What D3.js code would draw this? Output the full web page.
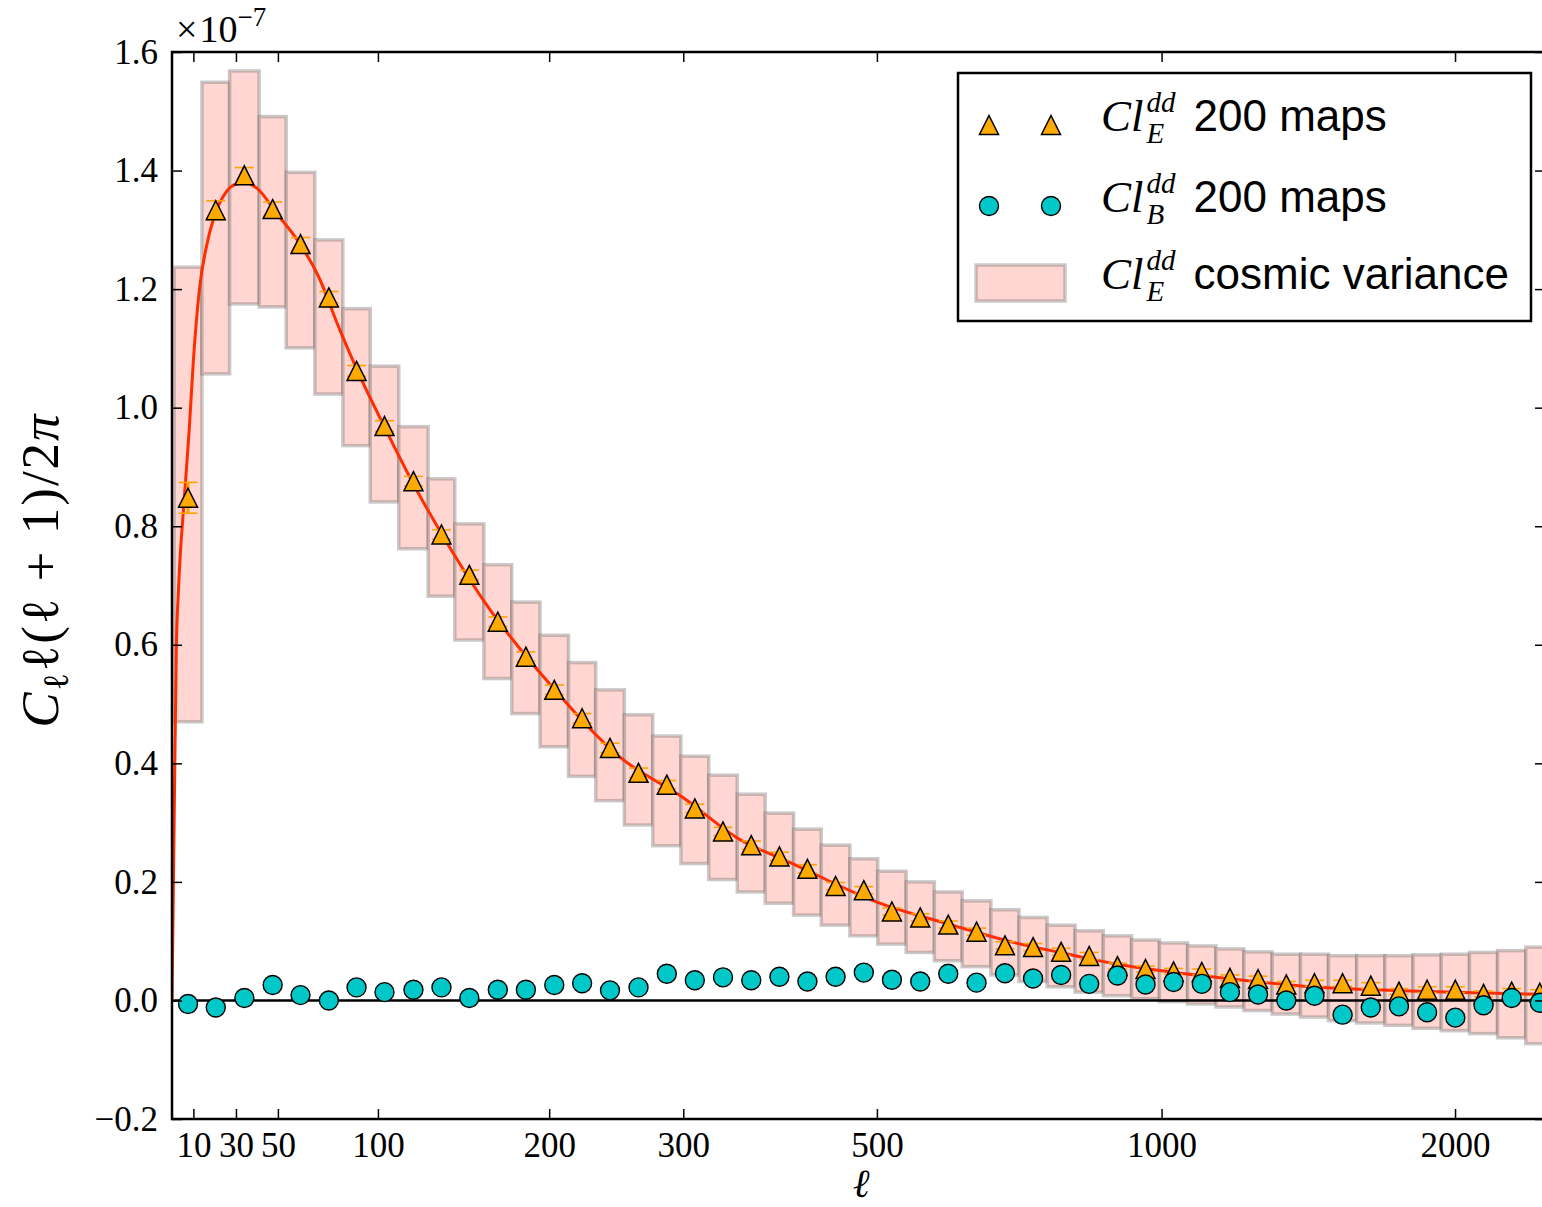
<!DOCTYPE html>
<html>
<head>
<meta charset="utf-8">
<script src="https://cdn.jsdelivr.net/npm/d3@7"></script>
<style>
  body { margin: 0; background: #fff; }
  svg { display: block; }
</style>
</head>
<body>
<svg id="chart" width="1542" height="1207"></svg>
<script>
// ---- data -------------------------------------------------------------
// multipole bin edges (50 edges -> 49 bins)
const binEdges = [1, 14, 27, 41, 54, 68, 82, 96, 111, 127,
  142, 159, 176, 194, 213, 232, 253, 275, 298, 322,
  348, 375, 404, 434, 467, 501, 538, 577, 618, 663,
  710, 760, 813, 870, 931, 995, 1064, 1138, 1216, 1300,
  1390, 1485, 1587, 1696, 1812, 1936, 2069, 2210, 2361, 2522];

// binned E-mode dust spectrum, mean of 200 maps (units of 1e-7)
const clEE = [0.848, 1.333, 1.392, 1.335, 1.276, 1.186, 1.062, 0.969, 0.876, 0.786,
  0.718, 0.639, 0.580, 0.524, 0.476, 0.426, 0.384, 0.364, 0.324, 0.285,
  0.262, 0.243, 0.222, 0.193, 0.186, 0.150, 0.140, 0.128, 0.116, 0.093,
  0.090, 0.082, 0.075, 0.058, 0.053, 0.049, 0.048, 0.038, 0.036, 0.027,
  0.029, 0.029, 0.025, 0.015, 0.018, 0.018, 0.011, 0.015, 0.013];

const clEEerr = [0.026, 0.016, 0.013, 0.012, 0.011, 0.010, 0.009, 0.009, 0.008, 0.008,
  0.008, 0.008, 0.008, 0.008, 0.008, 0.008, 0.008, 0.007, 0.007, 0.007,
  0.007, 0.007, 0.007, 0.006, 0.006, 0.006, 0.006, 0.006, 0.006, 0.006,
  0.006, 0.006, 0.006, 0.005, 0.005, 0.005, 0.005, 0.005, 0.005, 0.005,
  0.005, 0.005, 0.005, 0.005, 0.005, 0.005, 0.005, 0.005, 0.005];

// binned B-mode dust spectrum, mean of 200 maps
const clBB = [-0.006, -0.012, 0.004, 0.026, 0.009, 0.000, 0.022, 0.014, 0.018, 0.022,
  0.004, 0.018, 0.018, 0.026, 0.029, 0.017, 0.022, 0.045, 0.034, 0.039,
  0.034, 0.040, 0.032, 0.040, 0.047, 0.035, 0.032, 0.045, 0.030, 0.046,
  0.037, 0.043, 0.028, 0.042, 0.027, 0.031, 0.028, 0.014, 0.010, 0.000,
  0.008, -0.024, -0.012, -0.010, -0.020, -0.029, -0.008, 0.004, -0.004];

// cosmic-variance band of the E-mode spectrum (upper / lower limits per bin)
const cvHigh = [1.237, 1.549, 1.568, 1.491, 1.397, 1.283, 1.167, 1.070, 0.968, 0.880,
  0.804, 0.735, 0.672, 0.616, 0.570, 0.524, 0.482, 0.446, 0.412, 0.380,
  0.348, 0.316, 0.289, 0.262, 0.239, 0.218, 0.200, 0.183, 0.168, 0.153,
  0.140, 0.127, 0.1175, 0.109, 0.102, 0.097, 0.092, 0.087, 0.082, 0.078,
  0.078, 0.0755, 0.0755, 0.0755, 0.077, 0.078, 0.081, 0.084, 0.090];
const cvLow = [0.470, 1.057, 1.175, 1.170, 1.101, 1.023, 0.936, 0.841, 0.762, 0.682,
  0.608, 0.543, 0.484, 0.428, 0.378, 0.337, 0.296, 0.261, 0.231, 0.204,
  0.183, 0.164, 0.144, 0.127, 0.109, 0.095, 0.081, 0.067, 0.057, 0.043,
  0.032, 0.023, 0.014, 0.008, 0.003, -0.002, -0.006, -0.011, -0.017, -0.023,
  -0.028, -0.034, -0.038, -0.042, -0.047, -0.051, -0.056, -0.063, -0.073];

// input E-mode model spectrum
const theoryEll = [0, 1, 2, 3, 4, 5, 6, 8, 10, 13,
  16, 20, 25, 30, 35, 40, 50, 60, 70, 80,
  90, 100, 120, 140, 160, 180, 200, 250, 300, 350,
  400, 500, 600, 700, 800, 900, 1000, 1200, 1400, 1600,
  1800, 2000, 2200, 2500];
const theoryCl = [0, 0.30, 0.59, 0.69, 0.76, 0.81, 0.86, 0.96, 1.08, 1.205,
  1.27, 1.325, 1.362, 1.377, 1.379, 1.370, 1.325, 1.28, 1.22, 1.135,
  1.058, 0.99, 0.865, 0.76, 0.67, 0.597, 0.535, 0.41, 0.342, 0.272,
  0.233, 0.166, 0.128, 0.098, 0.078, 0.061, 0.050, 0.035, 0.024, 0.019,
  0.016, 0.014, 0.012, 0.010];

const xTickValues = [10, 30, 50, 100, 200, 300, 500, 1000, 2000];
const xTickLabels = ["10", "30", "50", "100", "200", "300", "500", "1000", "2000"];
const yTickValues = [-0.2, 0.0, 0.2, 0.4, 0.6, 0.8, 1.0, 1.2, 1.4, 1.6];

const legendSubs = ["E", "B", "E"];
const legendLabels = ["200 maps", "200 maps", "cosmic variance"];

// ---- layout & scales ----------------------------------------------------
const M = { left: 172, top: 52, right: 1545, bottom: 1119 };
const ELL0 = 200, ELLMAX = 2470;
const stretch = l => Math.asinh(l / ELL0);           // compressive multipole axis
const xT = d3.scaleLinear().domain([0, stretch(ELLMAX)]).range([M.left, M.right]);
const x = l => xT(stretch(l));
const y = d3.scaleLinear().domain([-0.2, 1.6]).range([M.bottom, M.top]);

const SERIF = "'Liberation Serif', 'DejaVu Serif', serif";
const SANS = "'Liberation Sans', Arial, Helvetica, sans-serif";

const svg = d3.select("#chart");
svg.append("rect").attr("width", 1542).attr("height", 1207).attr("fill", "#fff");

svg.append("defs").append("clipPath").attr("id", "plotClip")
  .append("rect")
  .attr("x", M.left).attr("y", M.top)
  .attr("width", M.right - M.left).attr("height", M.bottom - M.top);

const plot = svg.append("g").attr("clip-path", "url(#plotClip)");

const bins = d3.range(clEE.length).map(i => {
  const x0 = x(binEdges[i]), x1 = x(binEdges[i + 1]);
  return { i, x0, x1, xc: (x0 + x1) / 2 };
});

// cosmic variance boxes
plot.append("g").selectAll("rect").data(bins).join("rect")
  .attr("x", d => d.x0)
  .attr("width", d => d.x1 - d.x0)
  .attr("y", d => y(cvHigh[d.i]))
  .attr("height", d => y(cvLow[d.i]) - y(cvHigh[d.i]))
  .attr("fill", "#ffd6d1")
  .attr("stroke", "rgba(100,100,100,0.34)")
  .attr("stroke-width", 3.5);

// zero line
plot.append("line")
  .attr("x1", M.left).attr("x2", M.right)
  .attr("y1", y(0)).attr("y2", y(0))
  .attr("stroke", "#000").attr("stroke-width", 2.5);

// model curve
const line = d3.line().x(d => x(d[0])).y(d => y(d[1])).curve(d3.curveMonotoneX);
plot.append("path")
  .datum(theoryEll.map((l, k) => [l, theoryCl[k]]))
  .attr("d", line)
  .attr("fill", "none")
  .attr("stroke", "#ff2d00")
  .attr("stroke-width", 3);

// error bars on E-mode points
const eb = plot.append("g").attr("stroke", "#ffa500");
eb.selectAll("line.v").data(bins).join("line").attr("class", "v")
  .attr("x1", d => d.xc).attr("x2", d => d.xc)
  .attr("y1", d => y(clEE[d.i] - clEEerr[d.i]))
  .attr("y2", d => y(clEE[d.i] + clEEerr[d.i]))
  .attr("stroke-width", 3);
["lo", "hi"].forEach(side => {
  eb.selectAll("line." + side).data(bins).join("line").attr("class", side)
    .attr("x1", d => d.xc - 9.5).attr("x2", d => d.xc + 9.5)
    .attr("y1", d => y(clEE[d.i] + (side === "hi" ? 1 : -1) * clEEerr[d.i]))
    .attr("y2", d => y(clEE[d.i] + (side === "hi" ? 1 : -1) * clEEerr[d.i]))
    .attr("stroke-width", 1.6);
});

// marker shapes
const TRI = "M0,-9.5L9.5,9.5L-9.5,9.5Z";

plot.append("g").selectAll("path").data(bins).join("path")
  .attr("d", TRI)
  .attr("transform", d => `translate(${d.xc},${y(clEE[d.i])})`)
  .attr("fill", "#ffaa00")
  .attr("stroke", "#000")
  .attr("stroke-width", 1.5)
  .attr("stroke-linejoin", "miter");

plot.append("g").selectAll("circle").data(bins).join("circle")
  .attr("cx", d => d.xc)
  .attr("cy", d => y(clBB[d.i]))
  .attr("r", 9.5)
  .attr("fill", "#00c8c8")
  .attr("stroke", "#000")
  .attr("stroke-width", 1.4);

// ---- axes -----------------------------------------------------------------
function styleAxis(g) {
  g.select(".domain").remove();
  g.selectAll(".tick line").attr("stroke", "#000").attr("stroke-width", 1.5);
  g.selectAll(".tick text")
    .attr("fill", "#000")
    .style("font-family", SERIF)
    .style("font-size", "35px");
}

const xTicksU = xTickValues.map(stretch);
svg.append("g").attr("transform", `translate(0,${M.bottom})`)
  .call(d3.axisBottom(xT).tickValues(xTicksU)
    .tickFormat((d, i) => xTickLabels[i])
    .tickSizeInner(-10).tickSizeOuter(0).tickPadding(13))
  .call(styleAxis);
svg.append("g").attr("transform", `translate(0,${M.top})`)
  .call(d3.axisTop(xT).tickValues(xTicksU).tickFormat("")
    .tickSizeInner(-10).tickSizeOuter(0))
  .call(styleAxis);
svg.append("g").attr("transform", `translate(${M.left},0)`)
  .call(d3.axisLeft(y).tickValues(yTickValues).tickFormat(d3.format(".1f"))
    .tickSizeInner(-10).tickSizeOuter(0).tickPadding(14))
  .call(styleAxis);
svg.append("g").attr("transform", `translate(${M.right},0)`)
  .call(d3.axisRight(y).tickValues(yTickValues).tickFormat("")
    .tickSizeInner(-10).tickSizeOuter(0))
  .call(styleAxis);

// frame
svg.append("rect")
  .attr("x", M.left).attr("y", M.top)
  .attr("width", M.right - M.left).attr("height", M.bottom - M.top)
  .attr("fill", "none").attr("stroke", "#000").attr("stroke-width", 2.5);

// offset text
const off = svg.append("text").attr("x", 176).attr("y", 42)
  .style("font-family", SERIF).style("font-size", "38px").attr("fill", "#000");
off.append("tspan").text("\u00d7");
off.append("tspan").attr("dx", 2).text("10");
off.append("tspan").attr("dy", -16).style("font-size", "27px").text("\u22127");

// axis titles
svg.append("text")
  .attr("x", 861).attr("y", 1197)
  .attr("text-anchor", "middle")
  .style("font-family", SERIF).style("font-size", "40px").style("font-style", "italic")
  .text("\u2113");

const yl = svg.append("text")
  .attr("transform", "translate(58,570) rotate(-90)")
  .attr("text-anchor", "middle")
  .style("font-family", SERIF).style("font-size", "53px")
  .style("letter-spacing", "2px").attr("fill", "#000");
yl.append("tspan").style("font-style", "italic").text("C");
yl.append("tspan").attr("dy", 10).style("font-size", "36px").text("\u2113");
yl.append("tspan").attr("dy", -10).text("\u2113(\u2113 + 1)/2");
yl.append("tspan").style("font-style", "italic").text("\u03c0");

// ---- legend ------------------------------------------------------------------
const lg = svg.append("g");
lg.append("rect")
  .attr("x", 958).attr("y", 73).attr("width", 573).attr("height", 248)
  .attr("fill", "#fff").attr("stroke", "#000").attr("stroke-width", 2.5);

const rowY = [125, 206, 283];
const markX = [989, 1051];
markX.forEach(mx => {
  lg.append("path").attr("d", TRI)
    .attr("transform", `translate(${mx},${rowY[0]})`)
    .attr("fill", "#ffaa00").attr("stroke", "#000").attr("stroke-width", 1.5);
  lg.append("circle").attr("cx", mx).attr("cy", rowY[1]).attr("r", 9.5)
    .attr("fill", "#00c8c8").attr("stroke", "#000").attr("stroke-width", 1.4);
});
lg.append("rect")
  .attr("x", 976).attr("y", rowY[2] - 18).attr("width", 89).attr("height", 36)
  .attr("fill", "#ffd6d1").attr("stroke", "rgba(100,100,100,0.34)").attr("stroke-width", 3.5);

legendLabels.forEach((lab, k) => {
  const base = rowY[k] + 6;
  const cl = lg.append("text").attr("x", 1101).attr("y", base)
    .style("font-family", SERIF).style("font-style", "italic").style("font-size", "45px")
    .text("Cl");
  const sx = 1101 + cl.node().getComputedTextLength() + 3;
  const sup = lg.append("text").attr("x", sx).attr("y", base - 19)
    .style("font-family", SERIF).style("font-style", "italic").style("font-size", "29px")
    .text("dd");
  const sub = lg.append("text").attr("x", sx).attr("y", base + 12)
    .style("font-family", SERIF).style("font-style", "italic").style("font-size", "29px")
    .text(legendSubs[k]);
  const w = Math.max(sup.node().getComputedTextLength(), sub.node().getComputedTextLength());
  lg.append("text").attr("x", sx + w + 18).attr("y", base)
    .style("font-family", SANS).style("font-size", "44px")
    .text(lab);
});
</script>
</body>
</html>
